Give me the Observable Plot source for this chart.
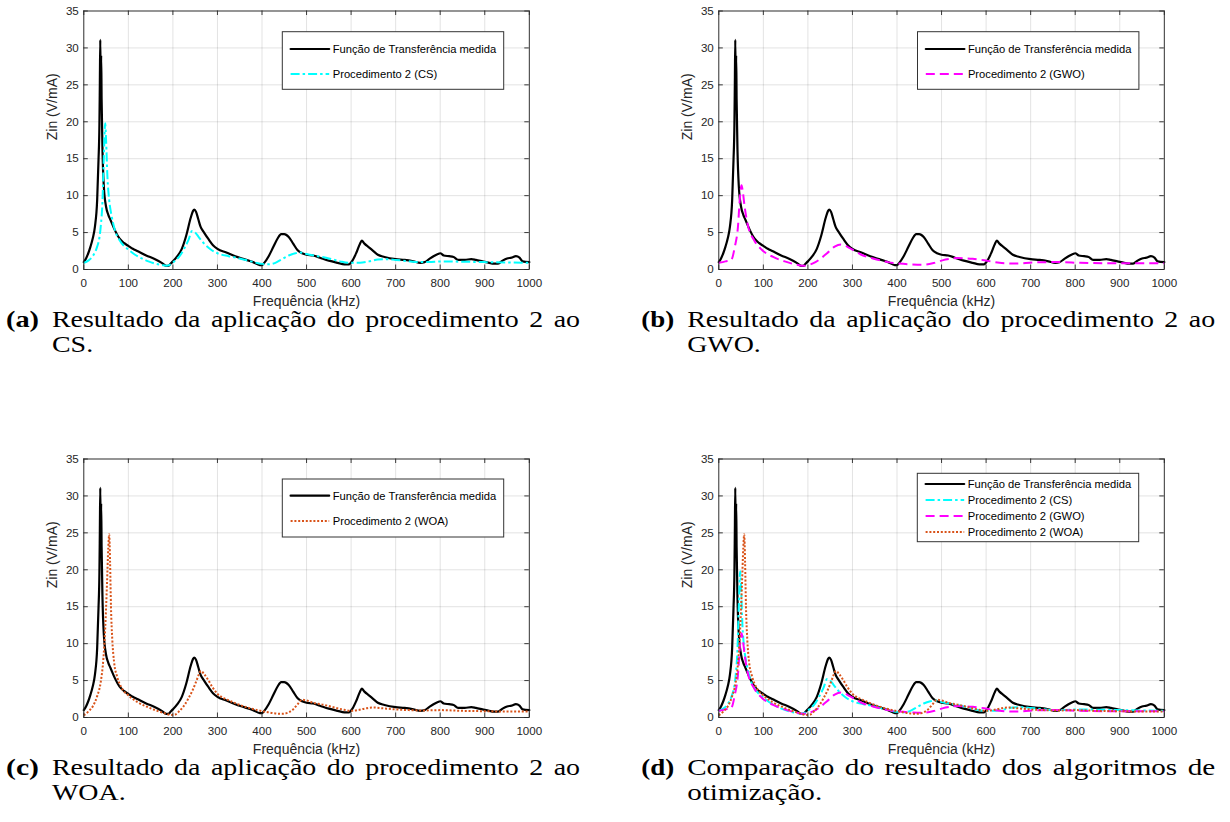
<!DOCTYPE html>
<html>
<head>
<meta charset="utf-8">
<script src="https://cdn.jsdelivr.net/npm/d3@7"></script>
<script src="https://cdn.jsdelivr.net/npm/@observablehq/plot@0.6"></script>
<style>
  html, body { margin: 0; padding: 0; background: #fff; }
  #root { position: relative; width: 1230px; height: 822px; overflow: hidden; background: #fff; }
  .panel { position: absolute; }
  #overlay { position: absolute; left: 0; top: 0; pointer-events: none; }
</style>
</head>
<body>
<div id="root"></div>
<script>
// ---------------- data ----------------
const xTicks = [0, 100, 200, 300, 400, 500, 600, 700, 800, 900, 1000];
const yTicks = [0, 5, 10, 15, 20, 25, 30, 35];
const xLabel = "Frequência (kHz)";
const yLabel = "Zin (V/mA)";
const seriesNames = ["Função de Transferência medida", "Procedimento 2 (CS)", "Procedimento 2 (GWO)", "Procedimento 2 (WOA)"];

const measFreq = [0,5,10,15,20,25,30,33,35,36,37,38,39,40,42,45,50,55,60,70,80,90,100,110,120,140,160,175,185,190,195,200,210,220,230,240,245,248,252,257,262,270,280,290,300,320,340,360,380,395,400,405,415,425,435,443,450,460,470,480,490,500,515,530,550,570,585,595,603,612,620,624,630,640,650,660,675,700,720,740,755,765,775,785,795,800,808,820,830,840,855,870,880,895,910,920,930,940,950,960,970,978,985,1000];
const measZin  = [1.0,1.5,2.2,3.1,4.2,5.8,9.4,14.8,19.4,25,31.1,25,29,23,16,11.2,8.5,7.4,6.7,5.3,4.2,3.6,3.2,2.8,2.5,1.9,1.4,0.9,0.5,0.5,0.8,1.1,1.8,2.8,4.6,7.0,7.9,8.1,7.8,6.8,5.8,5.0,4.1,3.3,2.8,2.3,1.8,1.4,1.0,0.6,0.6,0.9,1.8,3.0,4.2,4.8,4.8,4.4,3.5,2.6,2.2,2.0,1.9,1.6,1.2,0.9,0.7,0.7,1.2,2.3,3.5,3.9,3.5,3.0,2.5,2.0,1.7,1.4,1.3,1.1,0.9,1.0,1.4,1.8,2.1,2.2,1.9,1.8,1.7,1.3,1.3,1.4,1.3,1.1,0.9,0.8,0.8,1.2,1.5,1.6,1.8,1.6,1.1,1.0];

const csFreq = [0,10,20,30,35,38,42,45,48,50,53,57,62,70,80,90,100,115,130,145,160,175,185,195,205,215,225,235,243,250,258,270,285,300,325,350,375,400,415,430,445,460,475,485,500,525,550,575,595,620,640,660,680,700,725,750,775,800,850,900,950,1000];
const csZin  = [0.9,1.2,1.8,3.1,4.3,5.8,9.4,15.3,19.8,17.5,12.6,9.4,7.4,5.3,4.0,3.2,2.7,2.0,1.5,1.1,0.8,0.6,0.5,0.7,1.2,1.8,2.8,4.0,5.2,5.0,4.4,3.5,2.7,2.2,1.8,1.5,1.1,0.75,0.7,0.9,1.4,1.9,2.2,2.3,2.1,1.8,1.5,1.1,0.9,0.9,1.1,1.35,1.4,1.3,1.15,1.0,1.0,1.1,1.05,1.0,0.95,0.9];

const gwoFreq = [0,15,28,36,43,47,51,54,58,66,79,96,122,148,178,191,217,243,260,274,294,320,346,380,406,432,458,484,509,535,570,596,630,664,707,742,768,811,897,1000];
const gwoZin  = [0.9,1.1,1.3,3.1,5.8,9.4,11.4,10.5,8.5,5.8,4.0,2.7,1.7,1.1,0.6,0.5,1.0,2.2,3.1,3.4,2.9,2.0,1.5,1.0,0.8,0.7,0.65,0.9,1.35,1.55,1.45,1.25,0.9,0.8,0.95,1.0,1.0,0.9,0.85,0.85];

const woaFreq = [0,10,20,30,38,44,48,52,55,57,59,61,64,68,75,85,100,120,140,160,180,195,205,215,225,235,245,253,258,263,270,280,290,300,315,330,350,370,390,410,430,445,460,470,480,490,500,515,540,560,580,600,615,630,650,670,700,730,760,800,850,900,950,1000];
const woaZin  = [0.3,0.8,1.5,2.9,4.8,8,12,18,23,24.8,21,15,10.5,7.5,5.5,4.0,3.0,2.1,1.5,1.0,0.6,0.35,0.4,0.9,1.6,2.6,3.8,5.0,5.8,6.3,5.9,5.0,4.0,3.2,2.6,2.2,1.7,1.3,1.0,0.75,0.55,0.5,0.7,1.1,1.8,2.4,2.3,2.0,1.7,1.4,1.1,0.9,1.0,1.2,1.35,1.25,1.1,1.0,0.95,1.0,0.9,0.85,0.8,0.8];

const captions = [
  ["Resultado da aplicação do procedimento 2 ao", "CS."],
  ["Resultado da aplicação do procedimento 2 ao", "GWO."],
  ["Resultado da aplicação do procedimento 2 ao", "WOA."],
  ["Comparação do resultado dos algoritmos de", "otimização."]
];
const captionTags = ["(a)", "(b)", "(c)", "(d)"];

// ---------------- styles / layout ----------------
const toRows = (f, z) => f.map((x, i) => ({f: x, z: z[i]}));
const S = [
  {name: seriesNames[0], data: toRows(measFreq, measZin), color: "#000000", width: 2.2, dash: null, cap: "round"},
  {name: seriesNames[1], data: toRows(csFreq, csZin),   color: "#00ffff", width: 2.0, dash: "9,3,2.5,3", cap: "butt"},
  {name: seriesNames[2], data: toRows(gwoFreq, gwoZin), color: "#ff00ff", width: 2.0, dash: "9,5", cap: "butt"},
  {name: seriesNames[3], data: toRows(woaFreq, woaZin), color: "#d95319", width: 2.0, dash: "2,1.8", cap: "butt"}
];

const FW = 445.5, FH = 258.5;           // frame size
const ML = 83.3, MT = 10.5;              // frame offset in panel svg
const PW = 560, PH = 320;
const panels = [
  {left: 0,     top: 0,     keys: [0, 1],       leg: {dx: 199, dy: 21.2, h: 57.6, rows: [17.3, 42.3]}, capBase: 326.5},
  {left: 635.2, top: 0,     keys: [0, 2],       leg: {dx: 199, dy: 21.2, h: 57.6, rows: [17.3, 42.3]}, capBase: 326.5},
  {left: 0,     top: 447.8, keys: [0, 3],       leg: {dx: 199, dy: 20.7, h: 58.0, rows: [16.7, 42.0]}, capBase: 774.5},
  {left: 635.2, top: 447.8, keys: [0, 1, 2, 3], leg: {dx: 198.8, dy: 15, h: 68.4, rows: [10.7, 26.7, 42.7, 58.7]}, capBase: 774.5}
];

const root = document.getElementById("root");
const axisColor = "#262626";
const sansFont = "Liberation Sans, Arial, Helvetica, sans-serif";

function makePlot(keys) {
  const lines = keys.map(k => Plot.line(S[k].data, {
    x: "f", y: "z", stroke: S[k].color, strokeWidth: S[k].width,
    strokeDasharray: S[k].dash, strokeLinecap: S[k].cap, strokeLinejoin: "round",
    curve: "monotone-x"
  }));
  return Plot.plot({
    width: PW, height: PH,
    marginLeft: ML, marginTop: MT, marginRight: PW - ML - FW, marginBottom: PH - MT - FH,
    x: {domain: [0, 1000]},
    y: {domain: [0, 35]},
    style: {fontFamily: sansFont, fontSize: "11.6px", color: axisColor, background: "transparent", overflow: "visible"},
    marks: [
      Plot.gridX(xTicks, {stroke: "#000", strokeOpacity: 0.13, strokeWidth: 0.9}),
      Plot.gridY(yTicks, {stroke: "#000", strokeOpacity: 0.13, strokeWidth: 0.9}),
      ...lines,
      Plot.frame({stroke: axisColor, strokeWidth: 0.9}),
      Plot.tickX(xTicks, {x: d => d, insetTop: FH - 4.5, stroke: axisColor, strokeWidth: 0.9}),
      Plot.tickX(xTicks, {x: d => d, insetBottom: FH - 4.5, stroke: axisColor, strokeWidth: 0.9}),
      Plot.tickY(yTicks, {y: d => d, insetRight: FW - 4.5, stroke: axisColor, strokeWidth: 0.9}),
      Plot.tickY(yTicks, {y: d => d, insetLeft: FW - 4.5, stroke: axisColor, strokeWidth: 0.9}),
      Plot.axisX(xTicks, {tickSize: 0, tickPadding: 9, fontSize: 11.6, label: null, fill: axisColor, tickFormat: d => String(d)}),
      Plot.axisY(yTicks, {tickSize: 0, tickPadding: 5, fontSize: 11.6, label: null, fill: axisColor, tickFormat: d => String(d)}),
      Plot.text([xLabel], {frameAnchor: "bottom", dy: 31.8, text: d => d, fontSize: 14, lineAnchor: "middle", fill: axisColor}),
      Plot.text([yLabel], {frameAnchor: "left", dx: -31, rotate: -90, text: d => d, fontSize: 14, lineAnchor: "middle", fill: axisColor})
    ]
  });
}

panels.forEach(p => {
  const div = document.createElement("div");
  div.className = "panel";
  div.style.left = p.left + "px";
  div.style.top = p.top + "px";
  div.appendChild(makePlot(p.keys));
  root.appendChild(div);
});

// ---------------- overlay: legends + captions ----------------
const ns = "http://www.w3.org/2000/svg";
function el(tag, attrs, parent) {
  const e = document.createElementNS(ns, tag);
  for (const k in attrs) if (attrs[k] != null) e.setAttribute(k, attrs[k]);
  if (parent) parent.appendChild(e);
  return e;
}
const ov = el("svg", {id: "overlay", width: 1230, height: 822, viewBox: "0 0 1230 822"});
root.appendChild(ov);

panels.forEach(p => {
  const bx = p.left + ML + p.leg.dx, by = p.top + MT + p.leg.dy;
  el("rect", {x: bx, y: by, width: 221.4, height: p.leg.h, fill: "#fff", stroke: "#333", "stroke-width": 1}, ov);
  p.keys.forEach((k, i) => {
    const yy = by + p.leg.rows[i];
    el("line", {x1: bx + 8.3, x2: bx + 46.9, y1: yy, y2: yy, stroke: S[k].color, "stroke-width": S[k].width,
      "stroke-dasharray": S[k].dash, "stroke-linecap": S[k].cap}, ov);
    const t = el("text", {x: bx + 50.4, y: yy, "dominant-baseline": "central", "font-family": sansFont,
      "font-size": 11.2, fill: "#000"}, ov);
    t.textContent = S[k].name;
  });
});

// pick a serif that exists: Liberation Serif (Times metrics) preferred, else DejaVu Serif
function hasFont(name) {
  const c = document.createElement("canvas").getContext("2d");
  const s = "abcdefghijklmnopqrstuvwxyz0123456789";
  c.font = "40px monospace"; const a = c.measureText(s).width;
  c.font = `40px "${name}", monospace`; const b = c.measureText(s).width;
  return Math.abs(a - b) > 0.5;
}
const useLib = hasFont("Liberation Serif");
const capFont = useLib ? "Liberation Serif" : "DejaVu Serif";
const capSize = useLib ? 22.8 : 20.4;
const maxStretch = 1.3;

function captionBlock(i, p) {
  const x0 = p.left + 52, x1 = p.left + 580;
  const base1 = p.capBase, base2 = p.capBase + 25.2;
  const tag = el("text", {x: p.left + 6, y: base1, "font-family": capFont, "font-size": capSize, "font-weight": "bold", fill: "#000"}, ov);
  tag.textContent = captionTags[i];
  const tw = tag.getComputedTextLength();
  tag.setAttribute("textLength", Math.max(tw, 33));
  tag.setAttribute("lengthAdjust", "spacingAndGlyphs");

  const words = captions[i][0].split(" ");
  const nodes = words.map(w => {
    const t = el("text", {y: base1, "font-family": capFont, "font-size": capSize, fill: "#000"}, ov);
    t.textContent = w;
    return t;
  });
  const widths = nodes.map(n => n.getComputedTextLength());
  const sum = d3.sum(widths);
  const gaps = words.length - 1;
  const k = Math.max(0.94, Math.min(maxStretch, (x1 - x0 - 10.5 * gaps) / sum));
  const gap = (x1 - x0 - sum * k) / gaps;
  let x = x0;
  nodes.forEach((n, j) => {
    n.setAttribute("x", x);
    n.setAttribute("textLength", widths[j] * k);
    n.setAttribute("lengthAdjust", "spacingAndGlyphs");
    x += widths[j] * k + gap;
  });
  const l2 = el("text", {x: x0, y: base2, "font-family": capFont, "font-size": capSize, fill: "#000"}, ov);
  l2.textContent = captions[i][1];
  const w2 = l2.getComputedTextLength();
  l2.setAttribute("textLength", w2 * k);
  l2.setAttribute("lengthAdjust", "spacingAndGlyphs");
}
panels.forEach((p, i) => captionBlock(i, p));
</script>
</body>
</html>
